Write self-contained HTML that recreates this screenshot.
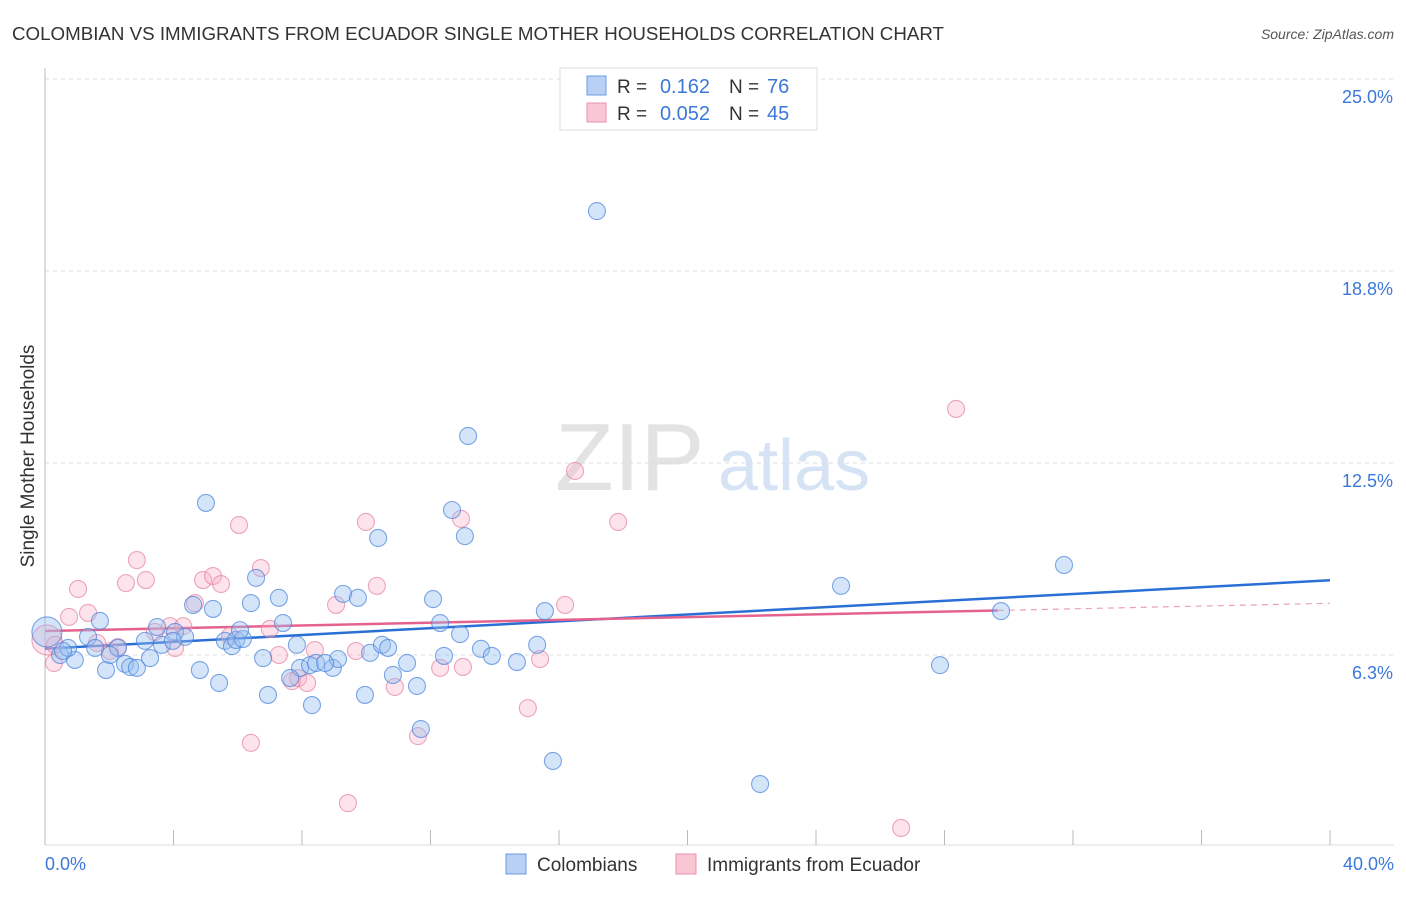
<!DOCTYPE html>
<html><head><meta charset="utf-8"><style>
body{margin:0;background:#fff;font-family:"Liberation Sans",sans-serif}
svg text{font-family:"Liberation Sans",sans-serif}
</style></head><body>
<svg id="chart" width="1406" height="892" viewBox="0 0 1406 892">
<text x="12" y="40" font-size="18" fill="#333" textLength="932" lengthAdjust="spacingAndGlyphs">COLOMBIAN VS IMMIGRANTS FROM ECUADOR SINGLE MOTHER HOUSEHOLDS CORRELATION CHART</text>
<text x="1394" y="39" font-size="14" fill="#555" font-style="italic" text-anchor="end">Source: ZipAtlas.com</text>
<g>
<text x="555" y="490" font-size="96" fill="#e3e3e3" font-family="Liberation Serif,serif">ZIP</text>
<text x="718" y="490" font-size="72" fill="#d5e3f5">atlas</text>
</g>
<g id="grid"></g><g id="axes"></g><g id="lines"></g><g id="pts"></g>
<text transform="translate(34,456) rotate(-90)" font-size="19" fill="#333" text-anchor="middle">Single Mother Households</text>
<text x="45" y="870" font-size="18" fill="#3b78d8">0.0%</text>
<text x="1394" y="870" font-size="18" fill="#3b78d8" text-anchor="end">40.0%</text>
<g>
<rect x="560" y="68" width="257" height="62" fill="#fff" stroke="#ddd"/>
<rect x="587" y="76" width="19" height="19" fill="#b7d0f3" stroke="#6b9be0"/>
<rect x="587" y="103" width="19" height="19" fill="#f9c6d4" stroke="#e890aa"/>
<text x="617" y="93" font-size="19" fill="#333">R =</text>
<text x="710" y="93" font-size="20" fill="#3b78d8" text-anchor="end">0.162</text>
<text x="729" y="93" font-size="19" fill="#333">N =</text>
<text x="767" y="93" font-size="20" fill="#3b78d8">76</text>
<text x="617" y="120" font-size="19" fill="#333">R =</text>
<text x="710" y="120" font-size="20" fill="#3b78d8" text-anchor="end">0.052</text>
<text x="729" y="120" font-size="19" fill="#333">N =</text>
<text x="767" y="120" font-size="20" fill="#3b78d8">45</text>
</g>
<g>
<rect x="506" y="854" width="20" height="20" fill="#b7d0f3" stroke="#6b9be0"/>
<text x="537" y="871" font-size="19" fill="#333">Colombians</text>
<rect x="676" y="854" width="20" height="20" fill="#f9c6d4" stroke="#e890aa"/>
<text x="707" y="871" font-size="19" fill="#333">Immigrants from Ecuador</text>
</g>
</svg>
<script>
const yTicks=[25,18.75,12.5,6.25];
const yTickLabels=["25.0%","18.8%","12.5%","6.3%"];
const xTicks=[0,4,8,12,16,20,24,28,32,36,40];
const blueX=[0.06,0.47,0.93,0.72,1.34,1.71,1.56,1.90,2.27,2.49,2.65,2.86,3.27,3.11,3.49,3.64,4.05,4.36,4.61,4.82,5.01,5.23,5.42,5.60,5.82,5.95,6.16,6.41,6.57,6.79,6.94,7.28,7.41,7.84,7.94,8.31,8.25,8.44,8.96,9.12,9.28,9.74,9.96,10.12,10.37,10.49,10.68,10.83,11.27,11.58,11.70,12.08,12.30,12.42,12.67,12.92,13.07,13.17,13.57,13.91,14.69,15.32,15.56,15.81,17.18,22.26,24.78,27.86,29.76,31.72,0.56,2.02,3.98,7.63,6.07,8.72];
const blueY=[7.0,6.25,6.09,6.48,6.84,7.36,6.48,5.76,6.48,5.96,5.86,5.83,6.15,6.71,7.16,6.58,7.0,6.84,7.88,5.76,11.20,7.75,5.34,6.71,6.54,6.74,6.77,7.94,8.76,6.15,4.95,8.11,7.29,6.58,5.83,4.62,5.92,5.99,5.83,6.12,8.24,8.11,4.95,6.32,10.06,6.58,6.48,5.60,5.99,5.24,3.84,8.07,7.29,6.22,10.97,6.93,10.12,13.38,6.45,6.22,6.02,6.58,7.68,2.80,20.70,2.05,8.50,5.92,7.68,9.18,6.38,6.25,6.71,5.50,7.06,5.99];
const pinkX=[0.06,0.31,0.75,1.03,1.34,1.62,2.02,2.27,2.52,2.86,3.14,3.42,3.89,4.05,4.30,4.67,4.92,5.23,5.48,5.76,6.04,6.41,6.72,7.00,7.28,7.69,7.88,8.16,8.40,9.06,9.43,9.68,9.99,10.33,10.89,11.61,12.30,12.95,13.01,15.03,16.19,16.50,15.41,17.84,26.65,28.36,0.28];
const pinkY=[6.74,6.58,7.49,8.40,7.62,6.64,6.38,6.51,8.59,9.34,8.69,7.0,7.19,6.48,7.19,7.94,8.69,8.82,8.56,6.87,10.48,3.39,9.08,7.10,6.25,5.40,5.50,5.34,6.41,7.88,1.43,6.38,10.58,8.50,5.21,3.61,5.83,10.68,5.86,4.52,7.88,12.24,6.12,10.58,0.62,14.26,5.99];
const NS="http://www.w3.org/2000/svg";
const X0=45,X1=1330,YB=847,YT=79;
function sx(v){return X0+v/40*(X1-X0);}
function sy(v){return YB-v/25*(YB-YT);}
function mk(t,a,parent){const e=document.createElementNS(NS,t);for(const k in a)e.setAttribute(k,a[k]);parent.appendChild(e);return e;}
const grid=document.getElementById('grid'),axes=document.getElementById('axes'),lines=document.getElementById('lines'),pts=document.getElementById('pts');
yTicks.forEach((t,i)=>{
 const l=mk('line',{x1:X0,x2:1394,y1:sy(t),y2:sy(t),stroke:'#ddd','stroke-dasharray':'4,4'},grid);
 
 
 const tx=mk('text',{x:1393,y:sy(t)+24,'font-size':18,fill:'#3b78d8','text-anchor':'end'},grid);
 tx.textContent=yTickLabels[i];
 
 
});
const ya=mk('line',{x1:X0,x2:X0,y1:68,y2:845,stroke:'#bbb'},axes);


const xa=mk('line',{x1:X0,x2:1394,y1:845,y2:845,stroke:'#ddd'},axes);


xTicks.forEach(t=>{
 const l=mk('line',{x1:sx(t),x2:sx(t),y1:830,y2:845,stroke:'#bbb'},axes);
 
 
});
function reg(xs,ys){const n=xs.length;let mx=0,my=0;for(let i=0;i<n;i++){mx+=xs[i];my+=ys[i];}mx/=n;my/=n;let sxy=0,sxx=0;for(let i=0;i<n;i++){sxy+=(xs[i]-mx)*(ys[i]-my);sxx+=(xs[i]-mx)**2;}const b=sxy/sxx;return [my-b*mx,b];}
function drawPts(xs,ys,fill,stroke,name){xs.forEach((x,i)=>{const r=i===0?15:8.5;const c=mk('circle',{cx:sx(x),cy:sy(ys[i]),r:r,fill:fill,stroke:stroke,'stroke-width':1.1},pts);
 
 });}
drawPts(pinkX,pinkY,'rgba(248,175,198,0.35)','rgba(230,130,160,0.7)','ecuador-point');
drawPts(blueX,blueY,'rgba(150,190,240,0.4)','rgba(70,130,220,0.7)','colombian-point');
const [ba,bb]=reg(blueX,blueY);
const bl=mk('line',{x1:sx(0),y1:sy(ba),x2:sx(40),y2:sy(ba+bb*40),stroke:'#2a6fd6','stroke-width':2.5},lines);


const [pa,pb]=reg(pinkX,pinkY);
const pmax=Math.max(...pinkX)+1.3;
const pl=mk('line',{x1:sx(0),y1:sy(pa),x2:sx(pmax),y2:sy(pa+pb*pmax),stroke:'#e5628e','stroke-width':2.5},lines);


const pd=mk('line',{x1:sx(pmax),y1:sy(pa+pb*pmax),x2:sx(40),y2:sy(pa+pb*40),stroke:'#e9a0b8','stroke-width':1.2,'stroke-dasharray':'6,5'},lines);


</script>
</body></html>
